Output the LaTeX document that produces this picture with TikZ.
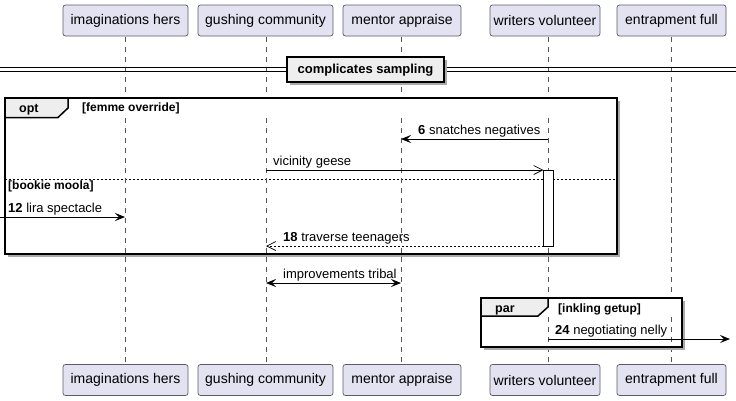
\documentclass[tikz,border=0pt]{standalone}
\usepackage{fontspec}
\setmainfont{Liberation Sans}
\usetikzlibrary{arrows.meta}
\definecolor{partfill}{HTML}{E2E2F0}
\definecolor{partdraw}{HTML}{5A5A6A}
\definecolor{lifecol}{HTML}{555555}
\definecolor{grpfill}{HTML}{EEEEEE}
\definecolor{shadowcol}{HTML}{AAAAAA}
\tikzset{
  part/.style={draw=partdraw, fill=partfill, rounded corners=2.5pt, line width=0.7pt,
    minimum height=31pt, inner xsep=0pt, font=\fontsize{14}{16}\selectfont},
  lifeline/.style={draw=lifecol, line width=0.6pt, dash pattern=on 5pt off 5pt},
  msg/.style={line width=0.9pt},
  filled/.style={-{Stealth[length=10pt,width=8pt,inset=4pt]}},
  openarr/.style={-{Straight Barb[length=9pt,width=9pt,line width=0.7pt]}},
  bothfilled/.style={{Stealth[length=10pt,width=8pt,inset=4pt]}-{Stealth[length=10pt,width=8pt,inset=4pt]}},
  mtxt/.style={anchor=base west, inner sep=0pt, font=\fontsize{13}{15}\selectfont},
  gtxt/.style={anchor=base west, inner sep=0pt, font=\bfseries\fontsize{12}{14}\selectfont},
  tabtxt/.style={anchor=base west, inner sep=0pt, font=\bfseries\fontsize{12.5}{14}\selectfont},
  frame/.style={line width=1.5pt},
  actbox/.style={draw, fill=white, line width=0.9pt},
}
\begin{document}
\begin{tikzpicture}[x=1pt,y=-1pt]
\useasboundingbox (0,0) rectangle (736,400);
% lifeline x positions
\def\xa{125}\def\xb{266}\def\xc{401}\def\xd{548}\def\xe{671}
% lifelines
\foreach \x in {\xa,\xb,\xc,\xd,\xe} \draw[lifeline] (\x,37) -- (\x,364);
% participants top
\node[part, minimum width=125pt] (pAt) at (125.5,20.5) {imaginations hers};
\node[part, minimum width=135pt] (pBt) at (265.5,20.5) {gushing community};
\node[part, minimum width=118pt] (pCt) at (402,20.5) {mentor appraise};
\node[part, minimum width=110pt] (pDt) at (545,20.5) {writers volunteer};
\node[part, minimum width=109pt] (pEt) at (671.5,20.5) {entrapment full};
% participants bottom
\node[part, minimum width=125pt] (pAb) at (125.5,380) {imaginations hers};
\node[part, minimum width=135pt] (pBb) at (265.5,380) {gushing community};
\node[part, minimum width=118pt] (pCb) at (402,380) {mentor appraise};
\node[part, minimum width=110pt] (pDb) at (545,380) {writers volunteer};
\node[part, minimum width=109pt] (pEb) at (671.5,380) {entrapment full};

% divider
\draw[line width=0.9pt] (0,67.5) -- (736,67.5);
\draw[line width=0.9pt] (0,71.5) -- (736,71.5);
\fill[shadowcol] (290,60) rectangle (447,85);
\draw[fill=grpfill, line width=1.5pt] (287,57) rectangle (444,82);
\node[inner sep=0pt, font=\bfseries\fontsize{13}{15}\selectfont] (div) at (365.5,70) {complicates sampling};

% opt frame
\fill[shadowcol] (8,101) rectangle (620,257);
\fill[white] (5,98) rectangle (617,254);
\draw[frame, fill=grpfill] (5,98) -- (68,98) -- (68,108) -- (58,117.5) -- (5,117.5) -- cycle;
\draw[frame] (5,98) rectangle (617,254);
\node[tabtxt] (optl) at (19,112.5) {opt};
\node[gtxt] (optc) at (82,111) {[femme override]};
\draw[line width=0.6pt, dash pattern=on 2pt off 2pt] (5,179) -- (617,179);
\node[gtxt] (optc2) at (8,189) {[bookie moola]};

% lifelines within frame (visible on top of white)
\foreach \x in {\xa,\xb,\xc,\xd,\xe} \draw[lifeline] (\x,118) -- (\x,253);

% par frame
\fill[shadowcol] (484,301) rectangle (685,350);
\fill[white] (481,298) rectangle (682,347);
\draw[frame, fill=grpfill] (481,298) -- (548,298) -- (548,307) -- (538,316) -- (481,316) -- cycle;
\draw[frame] (481,298) rectangle (682,347);
\foreach \x in {\xd,\xe} \draw[lifeline] (\x,317) -- (\x,346);
\node[tabtxt] (parl) at (495,312.5) {par};
\node[gtxt] (parc) at (558,312) {[inkling getup]};

% coordinates
\coordinate (m1s) at (\xd,139); \coordinate (m1e) at (\xc,139);
\coordinate (m2s) at (\xb,170); \coordinate (m2e) at (543.5,170);
\coordinate (m3s) at (0,217);   \coordinate (m3e) at (\xa,217);
\coordinate (m4s) at (543.5,246); \coordinate (m4e) at (\xb,246);
\coordinate (m5s) at (\xb,283); \coordinate (m5e) at (\xc,283);
\coordinate (m6s) at (\xd,339); \coordinate (m6e) at (730,339);

% activation box
\draw[actbox] (543.5,170) rectangle (553,246);

% messages
\draw[msg, filled] (m1s) -- (m1e);
\node[mtxt] (t1) at (418,134) {\textbf{6} snatches negatives};
\draw[msg, openarr] (m2s) -- (m2e);
\node[mtxt] (t2) at (273,165) {vicinity geese};
\draw[msg, filled] (m3s) -- (m3e);
\node[mtxt] (t3) at (8,212) {\textbf{12} lira spectacle};
\draw[msg, openarr, dash pattern=on 2pt off 2pt] (m4s) -- (m4e);
\node[mtxt] (t4) at (283,241) {\textbf{18} traverse teenagers};
\draw[msg, bothfilled] (m5s) -- (m5e);
\node[mtxt] (t5) at (283,278) {improvements tribal};
\draw[msg, filled] (m6s) -- (m6e);
\node[mtxt] (t6) at (555,334) {\textbf{24} negotiating nelly};
\end{tikzpicture}
\end{document}
